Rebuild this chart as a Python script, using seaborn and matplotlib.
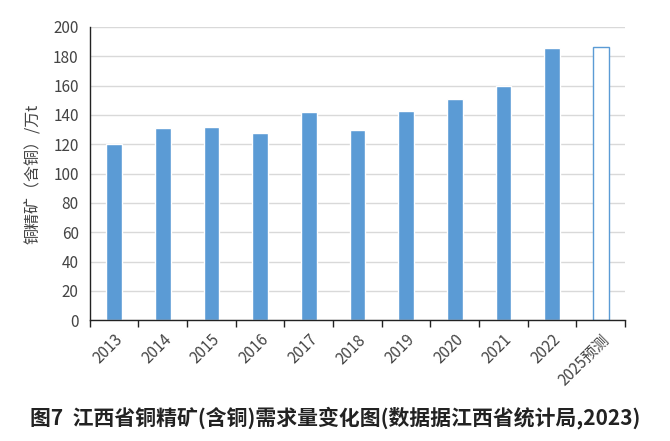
import matplotlib
matplotlib.use("Agg")
import matplotlib.pyplot as plt
import numpy as np
import pandas as pd
import seaborn as sns

years = ["2013", "2014", "2015", "2016", "2017", "2018",
         "2019", "2020", "2021", "2022", "2025预测"]
demand = [120, 131, 132, 127.5, 142, 130, 142.5, 151, 160, 185.5, 186]

BLUE = "#5B9BD5"

sns.set_theme(style="white")
plt.rcParams["font.family"] = ["Noto Sans CJK SC", "DejaVu Sans"]

df = pd.DataFrame({"year": years, "demand": demand})

fig = plt.figure(figsize=(6.7, 4.41), dpi=100)
ax = fig.add_axes([0.134, 0.274, 0.799, 0.665])

sns.barplot(data=df, x="year", y="demand", ax=ax, color=BLUE,
            width=0.32, saturation=1)

# last bar is the forecast: hollow
last = ax.patches[-1]
last.set_facecolor("white")
last.set_edgecolor(BLUE)
last.set_linewidth(1.0)

ax.set_ylim(0, 200)
ax.set_xlim(-0.5, len(years) - 0.5)
ax.set_yticks(np.arange(0, 201, 20))
ax.yaxis.grid(True, color="#d9d9d9", linewidth=1)
ax.set_axisbelow(True)

for side in ["top", "right"]:
    ax.spines[side].set_visible(False)
ax.spines["left"].set_color("#222222")
ax.spines["left"].set_linewidth(1)
ax.spines["bottom"].set_color("#222222")
ax.spines["bottom"].set_linewidth(1)

# Excel-like tick marks between categories
ax.set_xticks(np.arange(-0.5, len(years), 1.0), minor=True)
ax.tick_params(axis="x", which="minor", length=5, width=1, color="#222222",
               bottom=True, direction="out")
ax.tick_params(axis="x", which="major", length=0, pad=8)
ax.tick_params(axis="y", length=0, labelsize=11, labelcolor="#444444", pad=8)
ax.set_xticks(range(len(years)))
ax.set_xticklabels(years, rotation=45, ha="right", rotation_mode="anchor",
                   fontsize=11, color="#444444")

ax.set_xlabel("")
ax.set_ylabel("铜精矿（含铜）/万t", fontsize=11.5, color="#444444", labelpad=8)

fig.text(0.5, 0.052, "图7  江西省铜精矿(含铜)需求量变化图(数据据江西省统计局,2023)",
         ha="center", va="center", fontsize=15, fontweight="bold",
         color="#222222")

fig.savefig("out.png", dpi=100)
